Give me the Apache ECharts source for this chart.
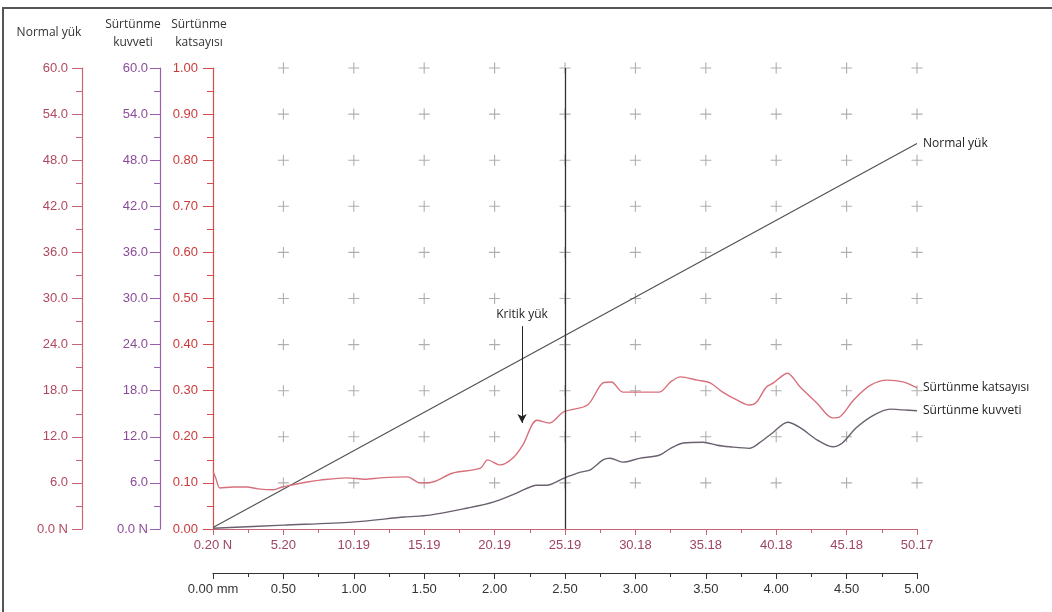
<!DOCTYPE html>
<html><head><meta charset="utf-8">
<script src="https://cdn.jsdelivr.net/npm/echarts@6/dist/echarts.min.js"></script>
<style>html,body{margin:0;padding:0;background:#fff}#c{width:1052px;height:612px}</style>
</head><body><div id="c"></div>
<script>
// ---- data ----
const mmTicks = [0, 0.5, 1.0, 1.5, 2.0, 2.5, 3.0, 3.5, 4.0, 4.5, 5.0];
const mmLabels = ['0.00 mm', '0.50', '1.00', '1.50', '2.00', '2.50', '3.00', '3.50', '4.00', '4.50', '5.00'];
const nLabels = ['0.20 N', '5.20', '10.19', '15.19', '20.19', '25.19', '30.18', '35.18', '40.18', '45.18', '50.17'];
const forceTicks = [0, 6, 12, 18, 24, 30, 36, 42, 48, 54, 60];
const forceLabels = ['0.0 N', '6.0', '12.0', '18.0', '24.0', '30.0', '36.0', '42.0', '48.0', '54.0', '60.0'];
const coefLabels = ['0.00', '0.10', '0.20', '0.30', '0.40', '0.50', '0.60', '0.70', '0.80', '0.90', '1.00'];

const normalX = [0, 5.0];
const normalLoad = [0.20, 50.17];

const coefX = [0, 0.02, 0.05, 0.14, 0.24, 0.32, 0.43, 0.49, 0.55, 0.67, 0.76, 0.95, 1.08, 1.19, 1.38, 1.47, 1.56, 1.70, 1.90, 1.95, 2.04, 2.13, 2.20, 2.30, 2.39, 2.49, 2.66, 2.77, 2.83, 2.91, 3.03, 3.17, 3.25, 3.32, 3.44, 3.53, 3.62, 3.72, 3.81, 3.86, 3.93, 3.98, 4.08, 4.17, 4.29, 4.40, 4.45, 4.55, 4.67, 4.79, 4.90, 5.00];
const frictionCoef = [0.125, 0.11, 0.089, 0.091, 0.091, 0.087, 0.085, 0.091, 0.095, 0.102, 0.106, 0.111, 0.108, 0.111, 0.113, 0.100, 0.102, 0.121, 0.132, 0.150, 0.139, 0.154, 0.182, 0.236, 0.230, 0.254, 0.269, 0.317, 0.319, 0.297, 0.297, 0.297, 0.319, 0.330, 0.323, 0.317, 0.297, 0.280, 0.269, 0.275, 0.308, 0.317, 0.338, 0.308, 0.273, 0.241, 0.243, 0.280, 0.312, 0.323, 0.319, 0.306];

const forceX = [0, 0.50, 0.99, 1.36, 1.54, 1.80, 1.99, 2.16, 2.30, 2.37, 2.49, 2.61, 2.68, 2.77, 2.82, 2.91, 3.03, 3.17, 3.25, 3.34, 3.48, 3.58, 3.67, 3.81, 3.88, 3.98, 4.08, 4.17, 4.29, 4.40, 4.47, 4.57, 4.69, 4.81, 4.90, 5.00];
const frictionForce = [0.1, 0.5, 0.9, 1.56, 1.8, 2.7, 3.5, 4.7, 5.7, 5.7, 6.6, 7.4, 7.7, 9.0, 9.2, 8.7, 9.2, 9.6, 10.5, 11.2, 11.3, 10.9, 10.7, 10.5, 11.2, 12.6, 13.9, 13.2, 11.6, 10.7, 11.2, 13.2, 14.8, 15.6, 15.5, 15.4];

const criticalX = 2.195;
const criticalFrom = 0.44;
const criticalTo = 0.23;
const markerX = 2.5;

// ---- build ----
const zip = (xs, ys) => xs.map((x, i) => [x, ys[i]]);
const plusPts = [];
mmTicks.slice(1).forEach(x => forceTicks.slice(1).forEach(y => plusPts.push([x, y])));

const TICKFONT = 'Liberation Sans';
const NAMEFONT = 'Open Sans';
const C_NORMAL = '#b04a60', C_NORMAL_L = '#c86474';
const C_KUV = '#8a4c9a', C_KUV_L = '#9c5eaa';
const C_KAT = '#cc3b3b', C_KAT_L = '#d44c4c';

function yAx(offset, max, interval, lineC, labC, labels, margin) {
  return {
    type: 'value', position: 'left', offset: offset, min: 0, max: max, interval: interval,
    axisLine: { show: true, onZero: false, lineStyle: { color: lineC, width: 1.2 } },
    axisTick: { show: true, length: 10, lineStyle: { color: lineC } },
    minorTick: { show: true, splitNumber: 2, length: 6, lineStyle: { color: lineC } },
    axisLabel: { color: labC, fontSize: 13, fontFamily: TICKFONT, margin: margin,
      formatter: v => labels[Math.round(v / interval)], showMinLabel: true, showMaxLabel: true },
    splitLine: { show: false }
  };
}
function xAx(offset, lineC, labC, labels) {
  return {
    type: 'value', position: 'bottom', offset: offset, min: 0, max: 5, interval: 0.5,
    axisLine: { show: true, onZero: false, lineStyle: { color: lineC, width: 1.2 } },
    axisTick: { show: true, length: 6, lineStyle: { color: lineC } },
    minorTick: { show: true, splitNumber: 2, length: 4, lineStyle: { color: lineC } },
    axisLabel: { color: labC, fontSize: 13, fontFamily: TICKFONT, margin: 10,
      formatter: v => labels[Math.round(v / 0.5)], showMinLabel: true, showMaxLabel: true },
    splitLine: { show: false }
  };
}

const chart = echarts.init(document.getElementById('c'), null, { renderer: 'canvas' });
chart.setOption({
  animation: false,
  backgroundColor: '#fff',
  grid: { left: 213, right: 135, top: 68, bottom: 83, containLabel: false },
  xAxis: [xAx(0, C_NORMAL_L, '#a04560', nLabels), xAx(44, '#333', '#333', mmLabels)],
  yAxis: [
    yAx(131, 60, 6, C_NORMAL_L, C_NORMAL, forceLabels, 14),
    yAx(53, 60, 6, C_KUV_L, C_KUV, forceLabels, 12),
    yAx(0, 1, 0.1, C_KAT_L, C_KAT, coefLabels, 15)
  ],
  graphic: [
    { type: 'line', shape: { x1: 2, y1: 8, x2: 1052, y2: 8 }, style: { stroke: '#555', lineWidth: 2 } },
    { type: 'line', shape: { x1: 3, y1: 8, x2: 3, y2: 612 }, style: { stroke: '#555', lineWidth: 2 } },
    { type: 'text', x: 49, y: 33, style: { text: 'Normal yük', fill: '#333', font: '12px "Open Sans"', textAlign: 'center', textVerticalAlign: 'middle' } },
    { type: 'text', x: 133, y: 34, style: { text: 'Sürtünme\nkuvveti', fill: '#333', font: '12px "Open Sans"', lineHeight: 18, textAlign: 'center', textVerticalAlign: 'middle' } },
    { type: 'text', x: 199, y: 34, style: { text: 'Sürtünme\nkatsayısı', fill: '#333', font: '12px "Open Sans"', lineHeight: 18, textAlign: 'center', textVerticalAlign: 'middle' } }
  ],
  series: [
    {
      type: 'scatter', xAxisIndex: 1, yAxisIndex: 0, silent: true, z: 1,
      symbol: 'path://M4.5,0H5.5V4.5H10V5.5H5.5V10H4.5V5.5H0V4.5H4.5Z', symbolSize: 11,
      itemStyle: { color: '#9a9a9a' }, data: plusPts,
      markLine: { silent: true, symbol: ['none', 'none'], label: { show: false },
        lineStyle: { color: '#333', width: 1.3, type: 'solid' }, data: [{ xAxis: markerX }] }
    },
    {
      name: 'Normal yük', type: 'line', xAxisIndex: 1, yAxisIndex: 0, showSymbol: false, z: 3,
      lineStyle: { color: '#505050', width: 1.1 }, data: zip(normalX, normalLoad),
      endLabel: { show: true, formatter: 'Normal yük', color: '#222', fontSize: 12, fontFamily: NAMEFONT, distance: 6 }
    },
    {
      name: 'Sürtünme katsayısı', type: 'line', xAxisIndex: 1, yAxisIndex: 2, showSymbol: false, smooth: 0.3, z: 4,
      lineStyle: { color: '#d8707c', width: 1.4 }, data: zip(coefX, frictionCoef),
      endLabel: { show: true, formatter: 'Sürtünme katsayısı', color: '#222', fontSize: 12, fontFamily: NAMEFONT, distance: 6 },
      markLine: {
        silent: true, symbol: ['none', 'arrow'], symbolSize: [7, 9],
        lineStyle: { color: '#222', width: 1, type: 'solid' },
        label: { show: true, position: 'start', formatter: 'Kritik yük', color: '#222', fontSize: 12, fontFamily: NAMEFONT, distance: 6 },
        data: [[{ coord: [criticalX, criticalFrom] }, { coord: [criticalX, criticalTo] }]]
      }
    },
    {
      name: 'Sürtünme kuvveti', type: 'line', xAxisIndex: 1, yAxisIndex: 1, showSymbol: false, smooth: 0.3, z: 4,
      lineStyle: { color: '#6a6070', width: 1.4 }, data: zip(forceX, frictionForce),
      endLabel: { show: true, formatter: 'Sürtünme kuvveti', color: '#222', fontSize: 12, fontFamily: NAMEFONT, distance: 6 }
    }
  ]
});
</script></body></html>
